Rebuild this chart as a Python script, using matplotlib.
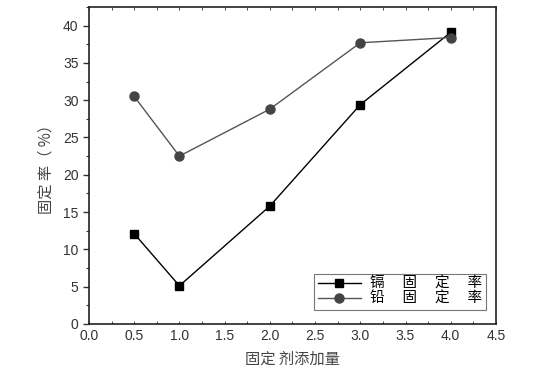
import matplotlib
matplotlib.use('Agg')
import matplotlib.pyplot as plt
from matplotlib.ticker import MultipleLocator

plt.rcParams['font.family'] = ['Liberation Sans', 'Noto Sans CJK SC', 'DejaVu Sans']

dosage = [0.5, 1.0, 2.0, 3.0, 4.0]
cd_rate = [12.1, 5.1, 15.8, 29.4, 39.1]
pb_rate = [30.5, 22.5, 28.8, 37.7, 38.4]
cd_label = '镉　 固　 定　 率'
pb_label = '铅　 固　 定　 率'

fig = plt.figure(figsize=(5.56, 3.68), dpi=100)
ax = fig.add_axes([0.160, 0.120, 0.732, 0.861])

ax.plot(dosage, cd_rate, color='black', lw=1.0, marker='s', ms=5.5,
        mfc='black', mec='black', label=cd_label)
ax.plot(dosage, pb_rate, color='#555555', lw=1.0, marker='o', ms=6.5,
        mfc='#444444', mec='#444444', label=pb_label)

ax.set_xlim(0, 4.5)
ax.set_ylim(0, 42.5)
ax.xaxis.set_major_locator(MultipleLocator(0.5))
ax.xaxis.set_minor_locator(MultipleLocator(0.25))
ax.yaxis.set_major_locator(MultipleLocator(5))
ax.yaxis.set_minor_locator(MultipleLocator(2.5))
ax.xaxis.set_major_formatter(matplotlib.ticker.FormatStrFormatter('%.1f'))

ax.tick_params(axis='y', which='major', direction='out', length=4, width=1, labelsize=10, colors='#333333')
ax.tick_params(axis='y', which='minor', direction='out', length=2.5, width=0.8, colors='#333333')
ax.tick_params(axis='x', which='both', direction='in', top=True, length=2.5, width=0.6,
               labelsize=10, colors='#333333')
for s in ax.spines.values():
    s.set_linewidth(1.2)
    s.set_color('#222222')

ax.set_ylabel('固定 率（ %）', family=['Noto Sans CJK SC'], fontsize=11, color='#444444', labelpad=6)
ax.set_xlabel('固定 剂添加量', family=['Noto Sans CJK SC'], fontsize=11, color='#444444', labelpad=6)

leg = ax.legend(loc='lower right', bbox_to_anchor=(0.975, 0.045), prop={'family': 'Noto Sans CJK SC', 'size': 10.5},
                frameon=True, fancybox=False, edgecolor='#555555', handlelength=3.0,
                borderpad=0.25, labelspacing=0.05, handletextpad=0.6, borderaxespad=0)
leg.get_frame().set_linewidth(0.8)

fig.savefig('out.png', dpi=100)
